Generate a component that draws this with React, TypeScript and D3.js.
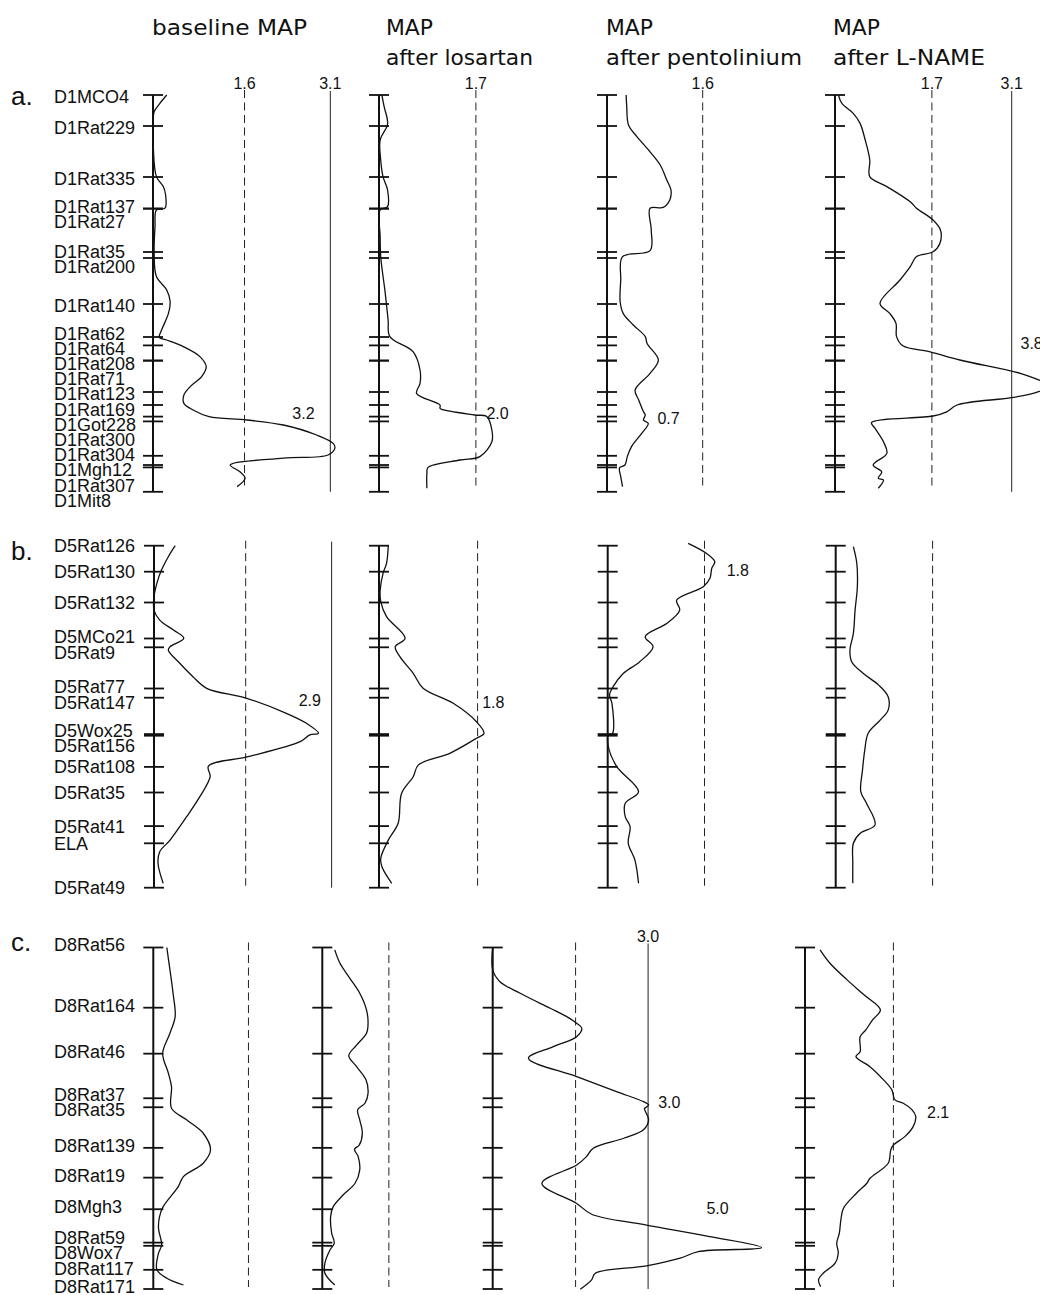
import React from 'react';
import * as d3 from 'd3';

type Pt = [number, number]; // [cM, LOD]

// ---------- headers ----------
const sectionLetters = ['a.', 'b.', 'c.'];
const headerLines: string[][] = [
  ['baseline MAP'],
  ['MAP', 'after losartan'],
  ['MAP', 'after pentolinium'],
  ['MAP', 'after L-NAME'],
];

// ---------- chromosome 1 ----------
const chr1Markers = ['D1MCO4', 'D1Rat229', 'D1Rat335', 'D1Rat137', 'D1Rat27', 'D1Rat35', 'D1Rat200', 'D1Rat140', 'D1Rat62', 'D1Rat64', 'D1Rat208', 'D1Rat71', 'D1Rat123', 'D1Rat169', 'D1Got228', 'D1Rat300', 'D1Rat304', 'D1Mgh12', 'D1Rat307', 'D1Mit8'];
const chr1Pos = [0, 7.75, 20.5, 28.4, 28.4, 39.25, 40.75, 52.25, 60.5, 62.6, 66.4, 66.4, 74.25, 77.5, 80.4, 81.6, 90.2, 92.5, 93.1, 99.2];
const chr1Baseline: Pt[] = [[0,0.24],[2.1,0.12],[4.2,0.02],[7.9,0.005],[12.9,0.005],[20.4,0.06],[22.9,0.18],[25,0.22],[28.3,0.21],[28.75,0.06],[32.9,0.035],[39.6,0.02],[45.4,0.06],[48.75,0.24],[51.7,0.3],[54.6,0.27],[58.75,0.15],[60.6,0.11],[61.25,0.24],[62.9,0.53],[65.4,0.82],[67.9,0.93],[70.4,0.85],[72.9,0.65],[75,0.54],[77.1,0.54],[78.75,0.7],[80.4,0.98],[81.25,1.64],[82.5,2.28],[85,2.86],[87.1,3.15],[88.3,3.18],[90,3.06],[90.8,2.28],[92.5,1.35],[94.2,1.52],[95.8,1.61],[97.9,1.47]];
const chr1Losartan: Pt[] = [[0,0.05],[2.9,0.09],[7.25,0.15],[11.25,0.02],[16.25,0.03],[20.4,0.07],[23.75,0.15],[27.9,0.15],[28.75,0.02],[35.4,0.02],[40.4,0.03],[49.6,0.11],[56.25,0.16],[60.4,0.19],[64.2,0.6],[68.75,0.72],[72.1,0.72],[74.6,0.66],[77.5,1.07],[78.3,1.07],[78.6,1.1],[80,1.68],[80.4,1.89],[83.75,1.98],[86.7,1.98],[90.4,1.77],[91.25,1.42],[93.1,0.86],[94.6,0.84],[98.3,0.84]];
const chr1Pentolinium: Pt[] = [[0,0.32],[2.9,0.33],[7.5,0.36],[10.4,0.5],[14.2,0.72],[17.5,0.89],[21.25,1.0],[23.75,1.07],[26.25,1.05],[28.1,0.94],[28.3,0.72],[33.75,0.74],[38.9,0.72],[40.4,0.26],[46.25,0.23],[51.7,0.22],[54.6,0.27],[57.5,0.44],[60.4,0.64],[62.1,0.67],[66.25,0.86],[69.6,0.72],[73.75,0.47],[76.25,0.53],[79.2,0.61],[80,0.64],[81.25,0.61],[82.1,0.69],[84.6,0.58],[87.9,0.41],[90.4,0.34],[92.5,0.3],[93.2,0.21],[95.4,0.23],[97.9,0.26]];
const chr1LName: Pt[] = [[0,0.06],[2.1,0.12],[4.6,0.32],[7.1,0.44],[11.25,0.53],[16.25,0.61],[20.4,0.61],[22.9,0.91],[26.7,1.32],[28.3,1.43],[31.25,1.72],[33.75,1.85],[37.1,1.84],[39.2,1.72],[40.4,1.43],[42.9,1.32],[46.25,1.14],[52.1,0.79],[54.6,0.96],[57.1,1.07],[60.4,1.08],[62.7,1.19],[64.2,1.67],[66.25,2.19],[69.6,3.25],[71.5,3.62],[72.6,3.8],[74.2,3.56],[75.6,3.13],[77.5,2.14],[79.2,1.96],[80.25,1.72],[81.9,0.64],[83.3,0.7],[86.7,0.85],[89.6,0.91],[92.5,0.67],[94.2,0.82],[95.8,0.76],[96.25,0.85],[98.3,0.76]];
const chr1Suggestive = [1.6, 1.7, 1.6, 1.7];
const chr1Significant: (number | null)[] = [3.1, null, null, 3.1];
const chr1Peaks: [number, number, number, string][] = [[0, 79.6, 2.63, '3.2'], [1, 79.6, 2.08, '2.0'], [2, 80.8, 1.03, '0.7'], [3, 62.1, 3.45, '3.8']];

// ---------- chromosome 5 ----------
const chr5Markers = ['D5Rat126', 'D5Rat130', 'D5Rat132', 'D5MCo21', 'D5Rat9', 'D5Rat77', 'D5Rat147', 'D5Wox25', 'D5Rat156', 'D5Rat108', 'D5Rat35', 'D5Rat41', 'ELA', 'D5Rat49'];
const chr5Pos = [0, 6.5, 14.2, 23.2, 25.4, 35.7, 38.0, 47.1, 47.5, 55.3, 61.7, 70.1, 74.4, 85.5];
const chr5Baseline: Pt[] = [[0,0.37],[2.75,0.25],[6.1,0.13],[9.4,0.05],[12.75,0.0],[16.1,0.0],[18.6,0.1],[21.1,0.34],[23.15,0.52],[25.25,0.28],[26.1,0.25],[29.4,0.45],[32.75,0.68],[35.65,0.92],[38.15,1.62],[41.9,2.31],[44.4,2.66],[46.9,2.87],[47.3,2.72],[49,2.55],[52.75,1.64],[55.1,0.95],[57.75,0.98],[62.75,0.8],[67.75,0.57],[73.6,0.28],[76.5,0.1],[79.4,0.07],[84.4,0.16]];
const chr5Losartan: Pt[] = [[0,0.16],[4.4,0.13],[6.9,0.07],[11.1,0.02],[14,0.03],[17.75,0.13],[23.15,0.45],[25.25,0.28],[27.75,0.36],[31.9,0.59],[35.65,0.76],[39.4,1.28],[44,1.68],[46.9,1.81],[48.15,1.68],[51.9,1.22],[54.8,0.68],[57.75,0.59],[61.9,0.39],[69.4,0.33],[73.6,0.16],[78.15,0.03],[80.25,0.05],[84.4,0.22]];
const chr5Pentolinium: Pt[] = [[-0.6,1.33],[1.9,1.63],[4,1.77],[5.65,1.72],[8.15,1.69],[10.25,1.58],[13.6,1.14],[16.1,1.19],[19.4,0.98],[22.75,0.62],[25.25,0.75],[29,0.53],[31.9,0.26],[35.25,0.09],[37.3,0.03],[39.4,0.07],[46.9,0.08],[47.3,0.01],[50.25,0.01],[55.25,0.15],[61.5,0.51],[64.4,0.29],[67.75,0.29],[70.25,0.37],[74.4,0.34],[78.6,0.45],[84.4,0.51]];
const chr5LName: Pt[] = [[0.25,0.31],[4.4,0.37],[10.25,0.38],[16.1,0.34],[21.9,0.31],[26.1,0.25],[29,0.28],[31.9,0.48],[34.8,0.75],[37.75,0.92],[41.1,0.92],[43.6,0.78],[46.9,0.57],[51.1,0.51],[56.1,0.47],[61.5,0.44],[64.4,0.54],[69.8,0.69],[71.9,0.43],[74.4,0.31],[79.4,0.3],[84.4,0.3]];
const chr5Suggestive = [1.6, 1.7, 1.6, 1.7];
const chr5Significant: (number | null)[] = [3.1, null, null, null];
const chr5Peaks: [number, number, number, string][] = [[0, 38.6, 2.72, '2.9'], [1, 39.0, 1.97, '1.8'], [2, 6.1, 2.15, '1.8']];

// ---------- chromosome 8 ----------
const chr8Markers = ['D8Rat56', 'D8Rat164', 'D8Rat46', 'D8Rat37', 'D8Rat35', 'D8Rat139', 'D8Rat19', 'D8Mgh3', 'D8Rat59', 'D8Wox7', 'D8Rat117', 'D8Rat171'];
const chr8Pos = [0, 15.05, 26.55, 37.7, 39.95, 50.1, 57.55, 65.45, 73.8, 74.6, 80.6, 85.4];
const chr8Baseline: Pt[] = [[0,0.26],[5.6,0.32],[11.45,0.38],[17.3,0.42],[21.45,0.32],[26.45,0.18],[31.45,0.29],[34.8,0.35],[40.2,0.35],[43.1,0.64],[46.45,0.96],[50.6,1.1],[53.95,0.96],[57.3,0.58],[59.8,0.48],[64.8,0.19],[67.3,0.12],[70.2,0.1],[74.4,0.16],[76.45,0.1],[80.6,0.07],[82.7,0.26],[84.4,0.58]];
const chr8Losartan: Pt[] = [[0.6,0.24],[3.95,0.34],[7.7,0.53],[11.45,0.72],[15.6,0.85],[18.95,0.88],[21.45,0.85],[24.4,0.66],[27.05,0.51],[29.8,0.66],[33.1,0.84],[36.45,0.88],[38.95,0.82],[40.6,0.68],[43.1,0.72],[46.45,0.77],[49.4,0.71],[50.45,0.62],[52.3,0.69],[55.6,0.72],[58.95,0.63],[61.9,0.4],[64.8,0.21],[67.3,0.16],[71.45,0.18],[73.95,0.23],[75.6,0.15],[78.95,0.05],[81.45,0.05],[84.4,0.24]];
const chr8Pentolinium: Pt[] = [[0.2,0],[5.6,0],[8.55,0.14],[11.45,0.53],[15.2,1.11],[17.3,1.43],[18.95,1.62],[20.2,1.72],[22.3,1.62],[24.8,1.17],[27.7,0.69],[32.3,1.62],[36.05,2.39],[38.55,2.91],[39.4,3.01],[40.3,2.93],[41.05,2.95],[43.1,3.01],[45.6,2.91],[47.7,2.53],[50.2,1.94],[52.3,1.81],[54.4,1.62],[59,0.95],[64,1.62],[66.7,1.91],[69.4,2.97],[72.3,4.19],[75.05,5.19],[76.05,3.97],[77.7,3.62],[79.6,2.97],[81.45,1.98],[83.1,1.91],[85.45,1.69]];
const chr8LName: Pt[] = [[0.6,0.29],[3.95,0.48],[8.1,0.81],[11.9,1.14],[15.6,1.45],[18.1,1.3],[20.6,1.17],[22.3,1.06],[26.05,1.06],[27.3,0.98],[29.8,1.25],[33.1,1.51],[35.6,1.67],[38.1,1.73],[38.95,1.89],[40.6,2.06],[42.3,2.13],[44.8,2.08],[47.3,1.92],[49.4,1.7],[50.6,1.65],[53.95,1.6],[57.7,1.25],[58.95,1.19],[61.45,0.99],[65.2,0.74],[68.1,0.69],[71.45,0.66],[73.95,0.61],[76.45,0.64],[78.95,0.58],[81.45,0.35],[83.1,0.26],[84.8,0.3]];
const chr8Suggestive = [1.83, 1.28, 1.6, 1.7];
const chr8Significant: (number | null)[] = [null, null, 3.0, null];
const chr8Peaks: [number, number, number, string][] = [[2, 38.8, 3.41, '3.0'], [2, 65.3, 4.34, '5.0'], [3, 41.3, 2.56, '2.1']];

// ---------- layout (positions / sizes only) ----------
const sections = [
  { letter: sectionLetters[0], markers: chr1Markers, pos: chr1Pos, curves: [chr1Baseline, chr1Losartan, chr1Pentolinium, chr1LName], sug: chr1Suggestive, sig: chr1Significant, peaks: chr1Peaks,
    top: 95, bottom: 491.8, axes: [153, 379, 607, 835], k: [57.2, 57, 59.8, 57], letterY: 105, labelShift: 1.5, labelSug: true, labelSig: true },
  { letter: sectionLetters[1], markers: chr5Markers, pos: chr5Pos, curves: [chr5Baseline, chr5Losartan, chr5Pentolinium, chr5LName], sug: chr5Suggestive, sig: chr5Significant, peaks: chr5Peaks,
    top: 545.7, bottom: 887.7, axes: [154, 379, 607.7, 835.7], k: [57.3, 58, 60.5, 57], letterY: 560, labelShift: 0, labelSug: false, labelSig: false },
  { letter: sectionLetters[2], markers: chr8Markers, pos: chr8Pos, curves: [chr8Baseline, chr8Losartan, chr8Pentolinium, chr8LName], sug: chr8Suggestive, sig: chr8Significant, peaks: chr8Peaks,
    top: 947.5, bottom: 1289, axes: [153.3, 322.3, 492.7, 805], k: [52, 52, 51.8, 52], letterY: 951, labelShift: -2.5, labelSug: false, labelSig: true },
];

const headerX = [152, 386, 606, 833];
const headerY = [35, 65];
const headerWidths: Record<string, number> = { 'baseline MAP': 155, 'MAP': 47, 'after losartan': 147, 'after pentolinium': 196, 'after L-NAME': 152 };

const FONT = "'Liberation Sans', Arial, Helvetica, sans-serif";
const HFONT = "'DejaVu Sans', Verdana, sans-serif";

function layoutLabels(t: number[], g: number): number[] {
  const push: number[] = [];
  t.forEach((v, i) => push.push(i === 0 ? v : Math.max(v, push[i - 1] + g)));
  const blocks: { sum: number; count: number }[] = [];
  t.forEach((v, i) => {
    blocks.push({ sum: v - i * g, count: 1 });
    while (blocks.length > 1) {
      const b = blocks[blocks.length - 1];
      const a = blocks[blocks.length - 2];
      if (a.sum / a.count > b.sum / b.count) {
        a.sum += b.sum; a.count += b.count; blocks.pop();
      } else break;
    }
  });
  const iso: number[] = [];
  let idx = 0;
  blocks.forEach((b) => {
    const m = b.sum / b.count;
    for (let j = 0; j < b.count; j++) { iso.push(m + idx * g); idx++; }
  });
  return t.map((_, i) => (push[i] + iso[i]) / 2);
}

function Section({ s }: { s: (typeof sections)[number] }) {
  const maxPos = s.pos[s.pos.length - 1];
  const y = d3.scaleLinear().domain([0, maxPos]).range([s.top, s.bottom]);
  const tickYs = s.pos.map((p) => y(p));
  const labelYs = layoutLabels(tickYs, 15.2);
  return (
    <g>
      <text x={11} y={s.letterY} fontFamily={FONT} fontSize={26} fill="#111">{s.letter}</text>
      {s.markers.map((m, i) => (
        <text key={m} x={54} y={labelYs[i] + 6.4 + s.labelShift} fontFamily={FONT} fontSize={18} fill="#111">{m}</text>
      ))}
      {s.axes.map((ax, pi) => {
        const x = d3.scaleLinear().domain([0, 1]).range([ax, ax + s.k[pi]]);
        const line = d3.line<Pt>().x((d) => x(d[1])).y((d) => y(d[0])).curve(d3.curveCatmullRom.alpha(0.5));
        const sug = s.sug[pi];
        const sig = s.sig[pi];
        return (
          <g key={pi}>
            <line x1={x(sug)} x2={x(sug)} y1={s.top - 5} y2={s.bottom - 2} stroke="#222" strokeWidth={1} strokeDasharray="8,4.5" />
            {s.labelSug && (
              <text x={x(sug)} y={s.top - 6} textAnchor="middle" fontFamily={FONT} fontSize={16} fill="#111">{sug.toFixed(1)}</text>
            )}
            {sig !== null && (
              <line x1={x(sig)} x2={x(sig)} y1={s.top - 4} y2={s.bottom} stroke="#222" strokeWidth={1} />
            )}
            {sig !== null && s.labelSig && (
              <text x={x(sig)} y={s.top - 6} textAnchor="middle" fontFamily={FONT} fontSize={16} fill="#111">{sig.toFixed(1)}</text>
            )}
            <line x1={ax} x2={ax} y1={s.top} y2={s.bottom} stroke="#111" strokeWidth={2} />
            {tickYs.map((ty, i) => (
              <line key={i} x1={ax - 10} x2={ax + 10} y1={ty} y2={ty} stroke="#111" strokeWidth={1.8} />
            ))}
            <path d={line(s.curves[pi]) || ''} fill="none" stroke="#111" strokeWidth={1.3} />
          </g>
        );
      })}
      {s.peaks.map(([pi, cm, lod, txt], i) => {
        const ax = s.axes[pi];
        const x = d3.scaleLinear().domain([0, 1]).range([ax, ax + s.k[pi]]);
        return (
          <text key={i} x={x(lod)} y={y(cm) + 5.8} textAnchor="middle" fontFamily={FONT} fontSize={16} fill="#111">{txt}</text>
        );
      })}
    </g>
  );
}

export default function App() {
  return (
    <svg width={1040} height={1295} viewBox="0 0 1040 1295" style={{ position: 'absolute', left: 0, top: 0, background: '#fff' }}>
      <rect x={0} y={0} width={1040} height={1295} fill="#fff" />
      {headerLines.map((lines, ci) => (
        <g key={ci}>
          {lines.map((ln, li) => (
            <text key={li} x={headerX[ci]} y={headerY[lines.length === 1 ? 0 : li]} fontFamily={HFONT} fontSize={21} fill="#111"
              textLength={headerWidths[ln]} lengthAdjust="spacingAndGlyphs">{ln}</text>
          ))}
        </g>
      ))}
      {sections.map((s, i) => <Section key={i} s={s} />)}
    </svg>
  );
}
